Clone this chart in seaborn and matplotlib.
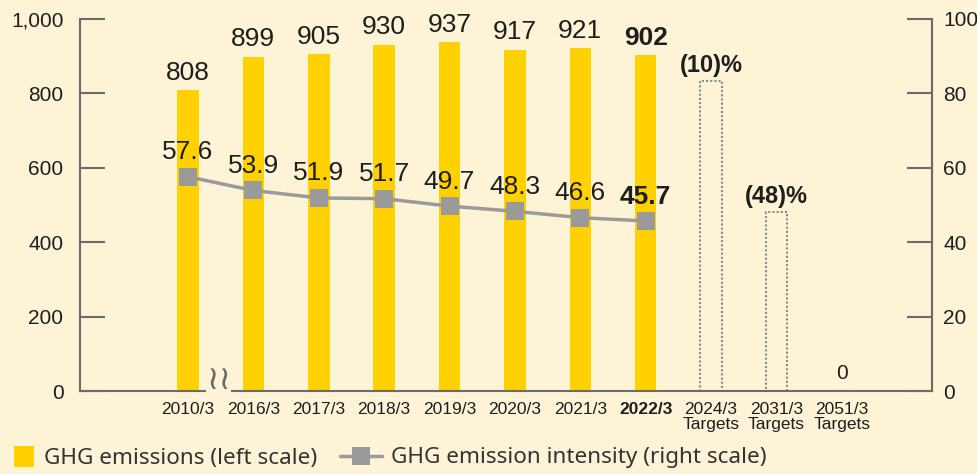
import numpy as np
import pandas as pd
import matplotlib.pyplot as plt
import seaborn as sns
from matplotlib.patches import Patch
from matplotlib.lines import Line2D

years = ['2010/3', '2016/3', '2017/3', '2018/3', '2019/3', '2020/3', '2021/3', '2022/3']
emissions = [808, 899, 905, 930, 937, 917, 921, 902]
intensity = [57.6, 53.9, 51.9, 51.7, 49.7, 48.3, 46.6, 45.7]
target_years = ['2024/3\nTargets', '2031/3\nTargets', '2051/3\nTargets']
target_values = [832, 481, 0]
target_labels = ['(10)%', '(48)%', '0']

bg = '#fdf3d6'
bar_color = '#ffd100'
line_color = '#9a9a9a'
axis_color = '#6b6b6b'
text_color = '#1e1e1e'

sns.set_theme(style='white')
plt.rcParams['font.family'] = ['Liberation Sans', 'DejaVu Sans']

fig = plt.figure(figsize=(9.77, 4.74), dpi=100, facecolor=bg)
ax = fig.add_axes([0.082, 0.175, 0.872, 0.785])
ax.set_facecolor(bg)

all_cats = years + target_years
df = pd.DataFrame({'year': all_cats, 'emissions': emissions + [np.nan] * len(target_years)})
sns.barplot(data=df, x='year', y='emissions', order=all_cats, color=bar_color,
            saturation=1, width=0.33, linewidth=0, ax=ax)

# dotted target outlines
tpos = np.arange(len(years), len(all_cats))
ax.bar(tpos, target_values, width=0.33, fill=False, edgecolor='#8a8a8a',
       linestyle=(0, (1, 1)), linewidth=1.5)

ax.set_xlim(-1.65, len(all_cats) - 1 + 1.38)
ax.set_ylim(0, 1000)
ax.set_yticks([0, 200, 400, 600, 800, 1000])
ax.set_yticklabels(['0', '200', '400', '600', '800', '1,000'])
ax.set_xlabel('')
ax.set_ylabel('')

ax.spines['top'].set_visible(False)
for s in ['left', 'bottom', 'right']:
    ax.spines[s].set_color(axis_color)
    ax.spines[s].set_linewidth(1.5)

ax.tick_params(axis='y', direction='in', length=18, width=1.5, color=axis_color,
               labelsize=15, labelcolor=text_color, pad=12)
ax.tick_params(axis='x', length=0, pad=8)
ax.set_xticks(np.arange(len(all_cats)))
ax.set_xticklabels(all_cats, fontsize=12.5, color=text_color, linespacing=0.95, va='top')
for lbl in ax.get_xticklabels():
    if lbl.get_text() == '2022/3':
        lbl.set_fontweight('bold')

# bar value labels
for i, v in enumerate(emissions):
    bold = i == len(emissions) - 1
    ax.annotate(f'{v}', (i, v), xytext=(0, 4), textcoords='offset points',
                ha='center', va='bottom', fontsize=19, color=text_color,
                fontweight='bold' if bold else 'normal')
for p, v, t in zip(tpos, target_values, target_labels):
    bold = t != '0'
    ax.annotate(t, (p, v), xytext=(0, 3 if bold else 6), textcoords='offset points',
                ha='center', va='bottom', fontsize=17 if bold else 15, color=text_color,
                fontweight='bold' if bold else 'normal')

# break mark on the axis
ax.text(0.47, 0.03, '\u2240\u2240', transform=ax.get_xaxis_transform(), ha='center',
        va='center', fontsize=24, color=axis_color, family='DejaVu Sans', clip_on=False,
        zorder=5, bbox=dict(facecolor=bg, edgecolor='none', pad=0))

# intensity on the right scale
ax2 = ax.twinx()
sns.lineplot(x=np.arange(len(years)), y=intensity, ax=ax2, color=line_color,
             linewidth=2.5, marker='s', markersize=13, markeredgewidth=0,
             markerfacecolor=line_color)
ax2.set_ylim(0, 100)
ax2.set_yticks([0, 20, 40, 60, 80, 100])
ax2.tick_params(axis='y', direction='in', length=18, width=1.5, color=axis_color,
                labelsize=15, labelcolor=text_color, pad=8)
for s in ['top', 'left', 'bottom']:
    ax2.spines[s].set_visible(False)
ax2.spines['right'].set_color(axis_color)
ax2.spines['right'].set_linewidth(1.5)
ax2.set_ylabel('')

for i, v in enumerate(intensity):
    bold = i == len(intensity) - 1
    ax2.annotate(f'{v}', (i, v), xytext=(0, 9), textcoords='offset points',
                 ha='center', va='bottom', fontsize=19, color=text_color,
                 fontweight='bold' if bold else 'normal')

legend_font = {'family': ['Noto Sans', 'DejaVu Sans'], 'size': 16.2}
leg1 = fig.legend([Patch(facecolor=bar_color, edgecolor='none')],
                  ['GHG emissions (left scale)'], loc='center left',
                  bbox_to_anchor=(14 / 977, 0.034), frameon=False, borderpad=0,
                  borderaxespad=0, handlelength=0.9, handleheight=1.0,
                  handletextpad=0.45, labelcolor='#333333', prop=legend_font)
leg2 = fig.legend([Line2D([0], [0], color=line_color, linewidth=2.5, marker='s',
                          markersize=13, markeredgewidth=0)],
                  ['GHG emission intensity (right scale)'], loc='center left',
                  bbox_to_anchor=(340 / 977, 0.034), frameon=False, borderpad=0,
                  borderaxespad=0, handlelength=1.85, handletextpad=0.4,
                  labelcolor='#333333', prop=legend_font)

fig.savefig('out.png', dpi=100, facecolor=bg)
